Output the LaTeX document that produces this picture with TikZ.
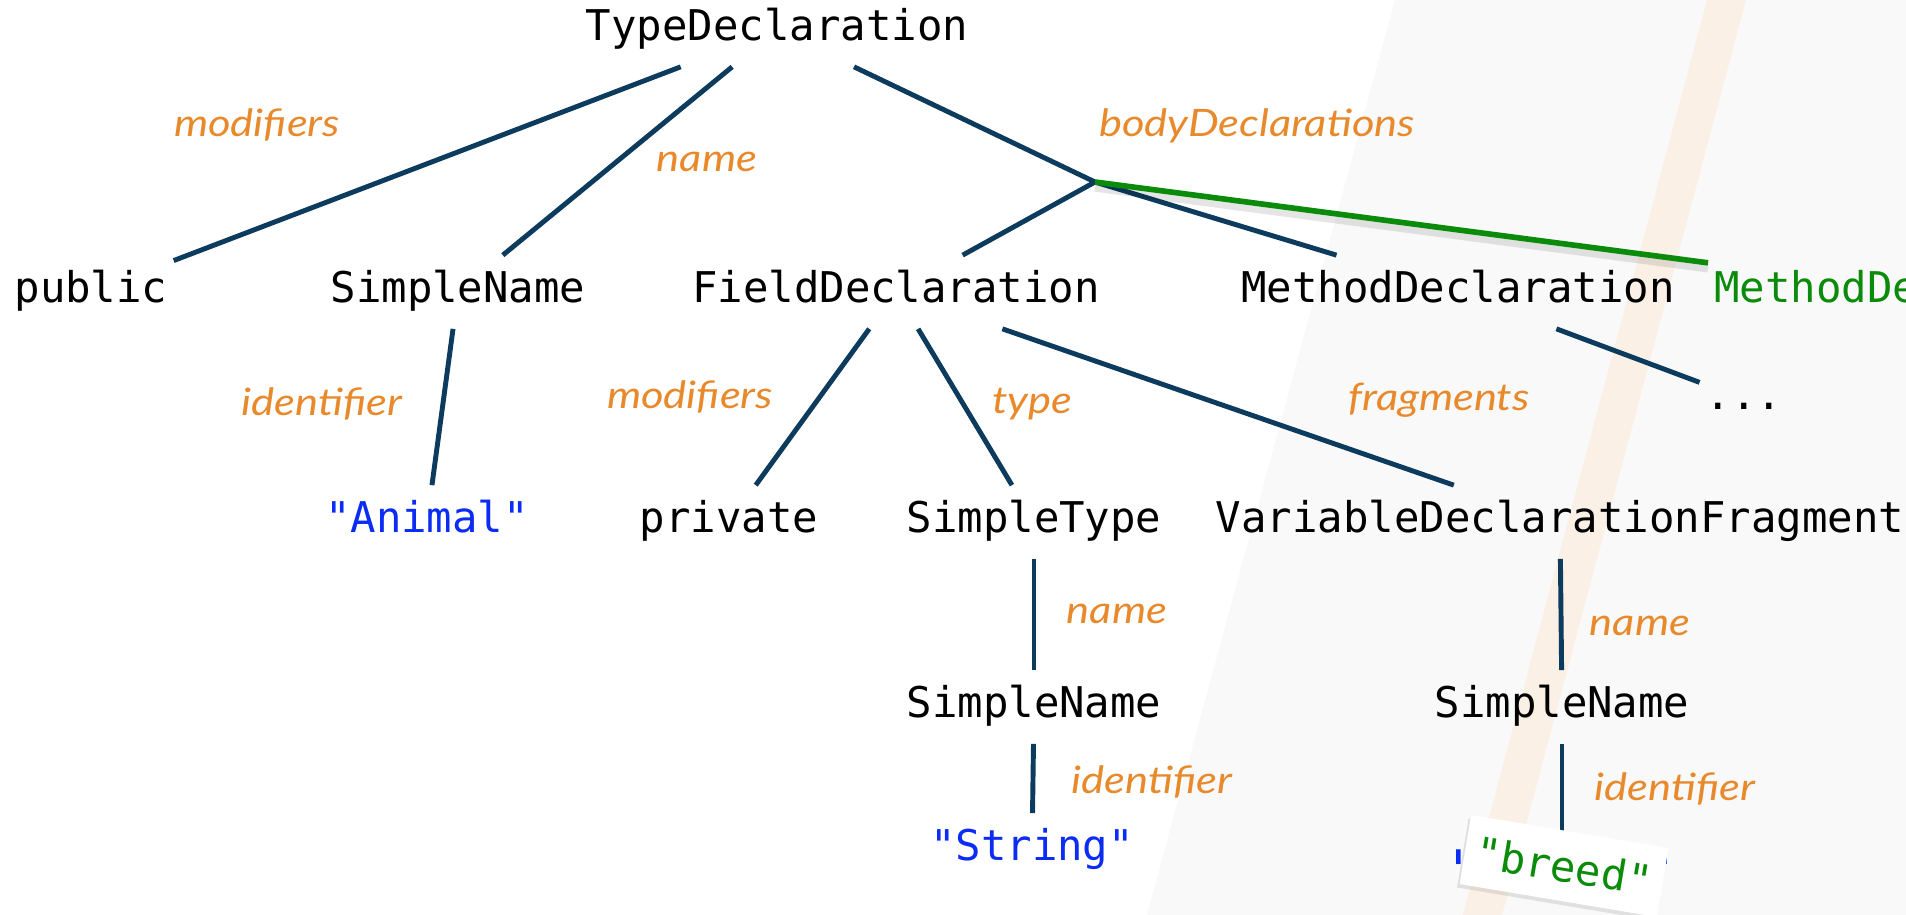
\documentclass[tikz,border=0pt]{standalone}
\usepackage{fontspec}
\newfontfamily\codefont{DejaVu Sans Mono}
\newfontfamily\edgefont{Lato}[FakeStretch=1.15]
\usetikzlibrary{shadows}
\definecolor{navy}{HTML}{0C3B5E}
\definecolor{roleorange}{HTML}{E8892B}
\definecolor{litblue}{HTML}{0A2CF5}
\definecolor{newgreen}{HTML}{0A8C0A}
\definecolor{panelgray}{HTML}{F9F9F9}
\definecolor{stripepeach}{HTML}{FBF0E6}

\begin{document}
\begin{tikzpicture}[x=0.02cm,y=-0.02cm,
  code/.style={font=\codefont\fontsize{24.1}{28}\selectfont},
  ast/.style={code,text height=18.3pt,text depth=5.8pt,minimum height=1.46cm},
  lit/.style={ast,text=litblue},
  role/.style={font=\edgefont\itshape\fontsize{21.5}{25}\selectfont,text=roleorange,anchor=base},
  link/.style={draw=navy,line width=2.8pt},
  newlink/.style={draw=newgreen,line width=3.2pt},
  glow/.style={draw=black,opacity=0.1,line width=5pt,transform canvas={yshift=-3pt}},
  card/.style={code,fill=white,text=newgreen,minimum width=4cm,minimum height=1.4cm,
    drop shadow={opacity=0.2,shadow xshift=-1.5pt,shadow yshift=-2pt}}]
  \useasboundingbox (0,0) rectangle (1906,915);
  \clip (0,0) rectangle (1906,915);
  \fill[white] (0,0) rectangle (1906,915);
  \fill[panelgray] (1395,0) -- (1906,0) -- (1906,915) -- (1147,915) -- cycle;   % grey panel
  \fill[stripepeach] (1707,0) -- (1746,0) -- (1502,915) -- (1463,915) -- cycle; % slanted stripe

  % tree nodes
  \node[ast] (typeDecl) at (777,30) {TypeDeclaration};
  \node[ast] (pub) at (91,292) {public};
  \node[ast] (simpleName) at (458,292) {SimpleName};
  \node[ast] (fieldDecl) at (896,292) {FieldDeclaration};
  \node[ast] (methodDecl) at (1458,292) {MethodDeclaration};
  \node[ast,text=newgreen,anchor=west] (methodNew) at (1708,292) {MethodDeclaration};
  \node[ast] (dots) at (1744,399) {...};
  \node[lit] (animal) at (427,522) {"Animal"};
  \node[ast] (priv) at (729,522) {private};
  \node[ast] (simpleType) at (1034,522) {SimpleType};
  \node[ast] (varFrag) at (1560,522) {VariableDeclarationFragment};
  \node[ast] (typeName) at (1034,707) {SimpleName};
  \node[ast] (fragName) at (1562,707) {SimpleName};
  \node[lit] (strLit) at (1032,850) {"String"};
  \node[code,font=\codefont\fontsize{31}{35}\selectfont,text=litblue,anchor=base] (breedOld) at (1562,889) {"\hphantom{breed}"};
  \coordinate (body) at (1095,182);

  % edge roles
  \node[role] (roleMods) at (257,137) {modifiers};
  \node[role] (roleName) at (707,172) {name};
  \node[role] (roleBody) at (1257,137) {bodyDeclarations};
  \node[role] (roleIdent) at (322,415) {identifier};
  \node[role] (roleFieldMods) at (690,408) {modifiers};
  \node[role] (roleType) at (1032,413) {type};
  \node[role] (roleFrags) at (1439,410) {fragments};
  \node[role] (roleTypeName) at (1117,623) {name};
  \node[role] (roleTypeIdent) at (1152,793) {identifier};
  \node[role] (roleFragName) at (1640,635) {name};
  \node[role] (roleFragIdent) at (1675,800) {identifier};

  % connectors
  \draw[link] (typeDecl) -- (pub);
  \draw[link] (typeDecl) -- (simpleName);
  \draw[link] (typeDecl) -- (body);
  \draw[link] (body) -- (fieldDecl);
  \draw[link] (body) -- (methodDecl);
  \draw[link] (methodDecl) -- (dots);
  \draw[link] (simpleName) -- (animal);
  \draw[link] (fieldDecl) -- (priv);
  \draw[link] (fieldDecl) -- (simpleType);
  \draw[link] (fieldDecl) -- (varFrag);
  \draw[link] (simpleType) -- (typeName);
  \draw[link] (typeName) -- (strLit);
  \draw[link] (varFrag) -- (fragName);
  \draw[link] (fragName) -- (breedOld);
  \draw[glow] (body) -- (methodNew);     % soft shade under the new link
  \draw[newlink] (body) -- (methodNew);

  \node[card,rotate=-9.5] (breedNew) at (1564,866) {"breed"}; % replaced literal
\end{tikzpicture}
\end{document}
